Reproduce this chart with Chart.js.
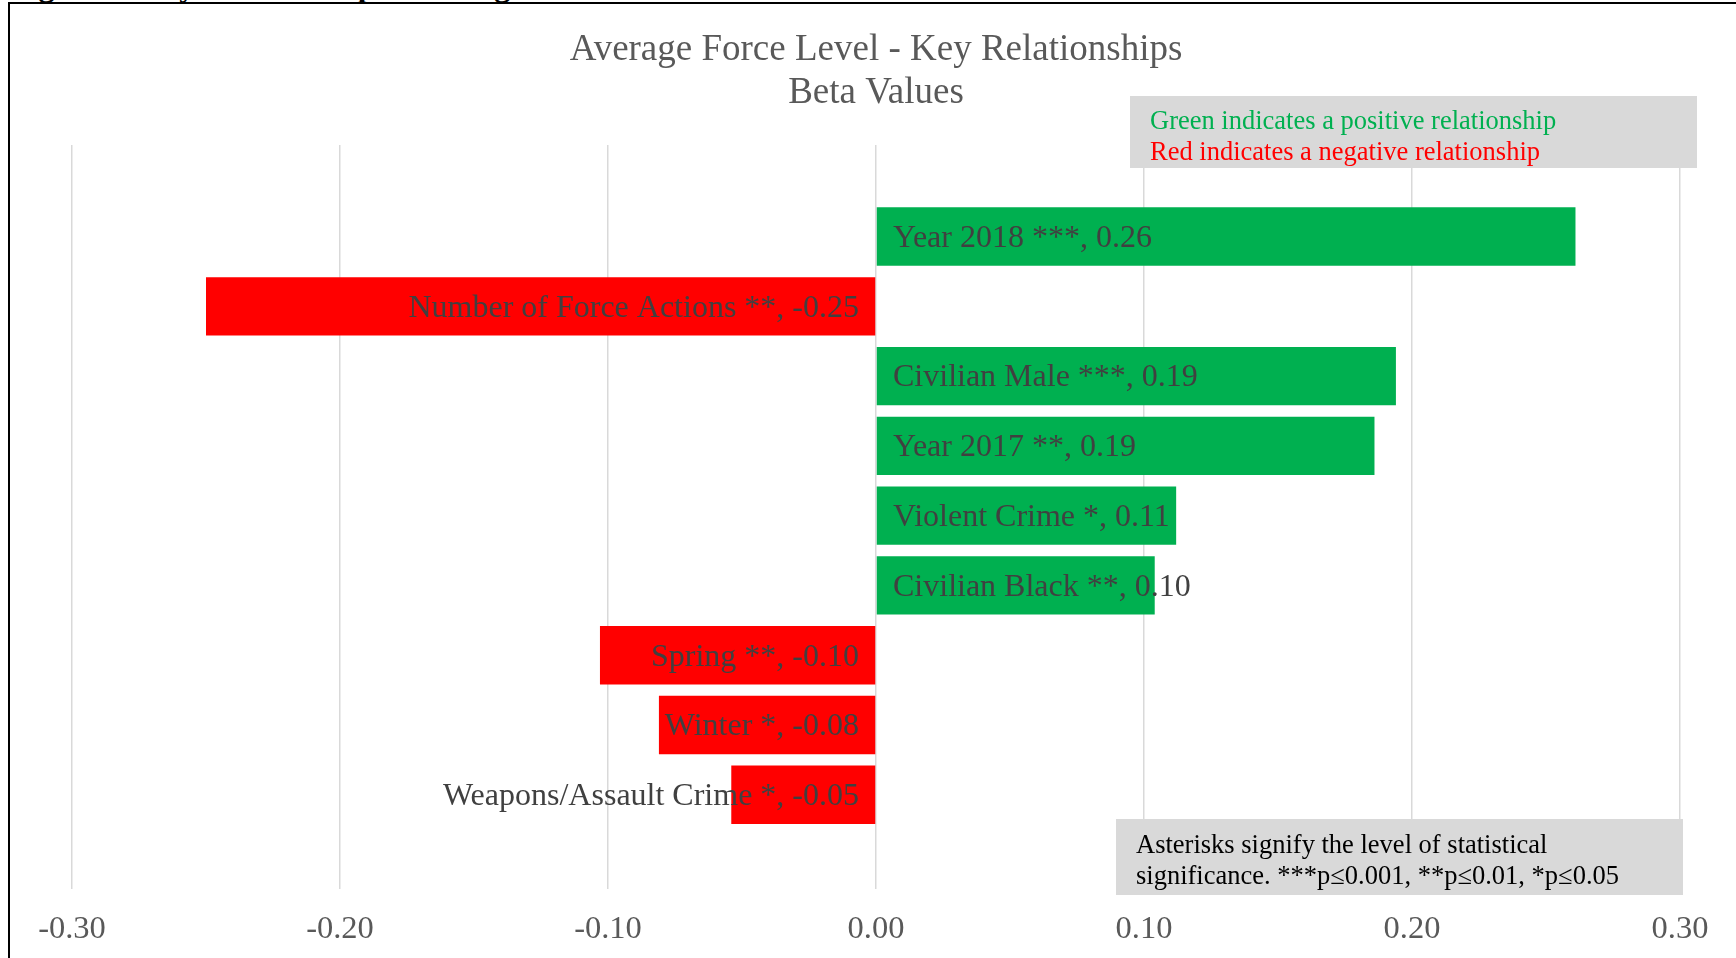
<!DOCTYPE html>
<html>
<head>
<meta charset="utf-8">
<title>Average Force Level - Key Relationships</title>
<script src="https://cdn.jsdelivr.net/npm/chart.js@4.4.1/dist/chart.umd.min.js"></script>
<style>
    html, body { margin: 0; padding: 0; background: #fff; overflow: hidden; }
    #page { position: relative; width: 1736px; height: 958px; overflow: hidden; }
    #caption {
        position: absolute; left: 10px; top: -33px;
        font: bold 32px "Liberation Serif", "Times New Roman", serif;
        color: #000; white-space: nowrap;
    }
    #frame {
        position: absolute; left: 8px; top: 2px; right: 0; bottom: 0;
        border-left: 2px solid #000; border-top: 2px solid #000;
        background: #fff;
    }
    #chart { position: absolute; left: 0; top: 0; }
</style>
</head>
<body>
<div id="page">
    <div id="caption">Figure 5. Key Relationships - Average Force Level</div>
    <div id="frame"></div>
    <canvas id="chart" width="1736" height="958"></canvas>
</div>

<script>
// =====================
// DATA
// =====================
const categories = [
    "Year 2018 ***",
    "Number of Force Actions **",
    "Civilian Male ***",
    "Year 2017 **",
    "Violent Crime *",
    "Civilian Black **",
    "Spring **",
    "Winter *",
    "Weapons/Assault Crime *"
];
const betaValues = [0.261, -0.250, 0.194, 0.186, 0.112, 0.104, -0.103, -0.081, -0.054];
const xTicks = [-0.30, -0.20, -0.10, 0.00, 0.10, 0.20, 0.30];

const titleLines = ["Average Force Level - Key Relationships", "Beta Values"];
const colorNote = ["Green indicates a positive relationship", "Red indicates a negative relationship"];
const starNote = ["Asterisks signify the level of statistical", "significance. ***p\u22640.001, **p\u22640.01, *p\u22640.05"];

const GREEN = "#00b050";
const RED = "#ff0000";
const SERIF = '"Liberation Serif", "Times New Roman", serif';

// =====================
// PLUGINS
// =====================

// value labels, anchored at zero inside the bar
const barLabels = {
    id: "barLabels",
    afterDatasetsDraw(chart) {
        let ctx = chart.ctx;
        let zero = chart.scales.x.getPixelForValue(0);
        let meta = chart.getDatasetMeta(0);
        ctx.save();
        ctx.font = "32px " + SERIF;
        ctx.fillStyle = "#404040";
        ctx.textBaseline = "middle";
        meta.data.forEach((bar, i) => {
            let v = betaValues[i];
            let text = categories[i] + ", " + v.toFixed(2);
            if (v >= 0) {
                ctx.textAlign = "left";
                ctx.fillText(text, zero + 17, bar.y + 2);
            } else {
                ctx.textAlign = "right";
                ctx.fillText(text, zero - 17, bar.y + 2);
            }
        });
        ctx.restore();
    }
};

// the two grey note boxes
const noteBoxes = {
    id: "noteBoxes",
    afterDraw(chart) {
        let ctx = chart.ctx;
        ctx.save();
        ctx.font = "26.5px " + SERIF;
        ctx.textBaseline = "middle";
        ctx.textAlign = "left";

        ctx.fillStyle = "#d9d9d9";
        ctx.fillRect(1130, 96, 567, 72);
        ctx.fillStyle = GREEN;
        ctx.fillText(colorNote[0], 1150, 122);
        ctx.fillStyle = RED;
        ctx.fillText(colorNote[1], 1150, 153);

        ctx.fillStyle = "#d9d9d9";
        ctx.fillRect(1116, 819, 567, 76);
        ctx.fillStyle = "#000";
        ctx.fillText(starNote[0], 1136, 846);
        ctx.fillText(starNote[1], 1136, 877);
        ctx.restore();
    }
};

// =====================
// CHART
// =====================
new Chart(document.getElementById("chart"), {
    type: "bar",
    data: {
        labels: categories,
        datasets: [{
            data: betaValues.map((v, i) => ({ x: v, y: i })),
            backgroundColor: betaValues.map(v => v >= 0 ? GREEN : RED),
            borderWidth: 0,
            categoryPercentage: 1,
            barPercentage: 0.836
        }]
    },
    options: {
        indexAxis: "y",
        responsive: false,
        animation: false,
        layout: { padding: { left: 72, right: 56, top: 0, bottom: -12 } },
        plugins: {
            legend: { display: false },
            tooltip: { enabled: false },
            title: {
                display: true,
                text: titleLines,
                color: "#595959",
                font: { family: SERIF, size: 37, weight: "normal", lineHeight: 1.15 },
                padding: { top: 29, bottom: 31 }
            }
        },
        scales: {
            x: {
                type: "linear",
                min: -0.3,
                max: 0.3,
                afterBuildTicks(axis) {
                    axis.ticks = xTicks.map(v => ({ value: v }));
                },
                grid: { color: "#d9d9d9", lineWidth: 1.5, drawTicks: false },
                border: { display: false },
                ticks: {
                    color: "#595959",
                    padding: 21,
                    font: { family: SERIF, size: 32.5 },
                    callback: v => (Math.abs(v) < 1e-9 ? 0 : v).toFixed(2)
                }
            },
            y: {
                type: "linear",
                display: false,
                offset: false,
                reverse: true,
                min: -1.31,
                max: 9.35
            }
        }
    },
    plugins: [barLabels, noteBoxes]
});
</script>
</body>
</html>
